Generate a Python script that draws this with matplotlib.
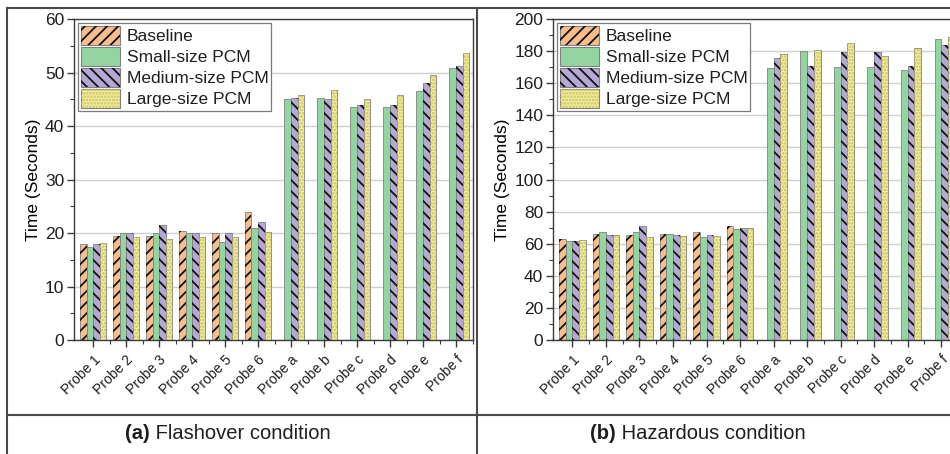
#!/usr/bin/env python3
"""Time to flashover / hazardous condition at each probe, for each PCM size."""
import numpy as np
import matplotlib
matplotlib.use("Agg")
import matplotlib.pyplot as plt
from matplotlib.patches import Patch
from matplotlib.lines import Line2D
from matplotlib.ticker import MultipleLocator

plt.rcParams.update({
    "font.family": ["Liberation Sans", "DejaVu Sans"],
    "font.size": 12.5,
    "text.color": "#1e1e1e",
    "axes.linewidth": 1.0,
    "axes.edgecolor": "#3a3a3a",
    "hatch.linewidth": 1.3,
    "xtick.color": "#3a3a3a",
    "ytick.color": "#3a3a3a",
    "xtick.labelcolor": "#1e1e1e",
    "ytick.labelcolor": "#1e1e1e",
})

nan = np.nan

probes = ["Probe 1", "Probe 2", "Probe 3", "Probe 4", "Probe 5", "Probe 6",
          "Probe a", "Probe b", "Probe c", "Probe d", "Probe e", "Probe f"]

series_names = ["Baseline", "Small-size PCM", "Medium-size PCM", "Large-size PCM"]

# (a) flashover condition, seconds
flash_baseline = [18.0, 19.4, 19.4, 20.4, 20.0, 24.0, nan, nan, nan, nan, nan, nan]
flash_small = [17.4, 20.0, 20.0, 20.0, 18.4, 21.0, 45.0, 45.3, 43.5, 43.5, 46.5, 50.8]
flash_medium = [18.0, 20.0, 21.5, 20.0, 20.0, 22.0, 45.3, 45.0, 43.9, 43.9, 48.0, 51.3]
flash_large = [18.1, 19.3, 18.8, 19.3, 19.2, 20.1, 45.8, 46.8, 45.1, 45.8, 49.6, 53.6]

# (b) hazardous condition, seconds
haz_baseline = [62.9, 66.2, 65.6, 66.2, 67.0, 71.0, nan, nan, nan, nan, nan, nan]
haz_small = [61.4, 67.0, 67.0, 66.2, 64.1, 68.9, 169.7, 180.0, 170.3, 169.8, 168.0, 187.4]
haz_medium = [61.9, 65.6, 71.0, 65.4, 65.6, 69.9, 176.0, 170.5, 179.4, 179.6, 170.8, 184.0]
haz_large = [62.5, 65.6, 64.1, 64.8, 64.8, 69.9, 178.1, 180.8, 184.8, 177.0, 181.9, 188.8]

STYLE = [
    {"face": "#f8bd8c", "hatch": "///", "hcolor": "#111111"},
    {"face": "#92d5a1", "hatch": None, "hcolor": None},
    {"face": "#b6a8d6", "hatch": "\\\\\\", "hcolor": "#111111"},
    {"face": "#f3f09c", "hatch": ".....", "hcolor": "#c9bd66"},
]

EDGE = "#808080"
WIDTH = 0.2
OFFSETS = [-0.3, -0.1, 0.1, 0.3]


def plot_panel(ax, data, ymax, ystep):
    x = np.arange(len(probes))
    for vals, off, st in zip(data, OFFSETS, STYLE):
        vals = np.asarray(vals, dtype=float)
        ok = ~np.isnan(vals)
        ax.bar(x[ok] + off, vals[ok], WIDTH, color=st["face"],
               edgecolor=EDGE, linewidth=0.6, zorder=2)
        if st["hatch"]:
            # hatch drawn in its own colour over the filled bar
            ax.bar(x[ok] + off, vals[ok], WIDTH, color="none",
                   edgecolor=st["hcolor"], hatch=st["hatch"],
                   linewidth=0, zorder=3)

    ax.set_xlim(-0.58, 11.5)
    ax.set_ylim(0, ymax)
    ax.set_xticks(x)
    ax.set_xticklabels(probes, rotation=45, ha="right",
                       rotation_mode="anchor", fontsize=10)
    ax.set_xticks(x + 0.5, minor=True)
    ax.yaxis.set_major_locator(MultipleLocator(ystep))
    ax.yaxis.set_minor_locator(MultipleLocator(ystep / 2))
    ax.tick_params(axis="both", which="major", direction="out", length=5,
                   width=1.0, labelsize=12.5, pad=2)
    ax.tick_params(axis="x", which="major", labelsize=10, pad=4)
    ax.tick_params(axis="both", which="minor", direction="out", length=3,
                   width=0.8)
    ax.grid(True, axis="y", color="#cfcfcf", linewidth=1.0, zorder=0)
    ax.set_axisbelow(True)
    ax.set_ylabel("Time (Seconds)", fontsize=12.5, labelpad=3)

    handles = []
    for st in STYLE:
        base = Patch(facecolor=st["face"], edgecolor=EDGE, linewidth=0.8)
        if st["hatch"]:
            over = Patch(facecolor="none", edgecolor=st["hcolor"],
                         hatch=st["hatch"], linewidth=0)
            handles.append((base, over))
        else:
            handles.append(base)
    leg = ax.legend(handles, series_names, loc="upper left", fontsize=12.5,
                    handlelength=2.25, handleheight=1.3, labelspacing=0.12,
                    handletextpad=0.4, borderpad=0.15, borderaxespad=0.25,
                    fancybox=False, framealpha=1, edgecolor="#7a7a7a")
    leg.get_frame().set_linewidth(0.9)


def main():
    fig = plt.figure(figsize=(9.5, 4.54), dpi=100)

    ax1 = fig.add_axes([0.0779, 0.2511, 0.4195, 0.7070])
    ax2 = fig.add_axes([0.5821, 0.2511, 0.4263, 0.7070])

    plot_panel(ax1, [flash_baseline, flash_small, flash_medium, flash_large],
               60, 10)
    plot_panel(ax2, [haz_baseline, haz_small, haz_medium, haz_large],
               200, 20)

    # table frame around the two panels
    lc = "#4a4a4a"
    for xs, ys in [([0.0074, 1.0], [0.9824, 0.9824]),
                   ([0.0074, 0.0074], [0.9824, 0.0]),
                   ([0.5026, 0.5026], [0.9824, 0.0]),
                   ([0.0074, 1.0], [0.0870, 0.0870])]:
        fig.add_artist(Line2D(xs, ys, color=lc, linewidth=1.5,
                              transform=fig.transFigure))

    # captions: bold letter followed by normal text
    for x0, tag, text in [(0.132, "(a)", " Flashover condition"),
                          (0.621, "(b)", " Hazardous condition")]:
        t = fig.text(x0, 0.034, tag, fontsize=14.5, fontweight="bold")
        ax1.annotate(text, xy=(1, 0), xycoords=t, va="bottom",
                     fontsize=14.5, annotation_clip=False)

    fig.savefig("out.png", dpi=100)
    plt.close(fig)


if __name__ == "__main__":
    main()
